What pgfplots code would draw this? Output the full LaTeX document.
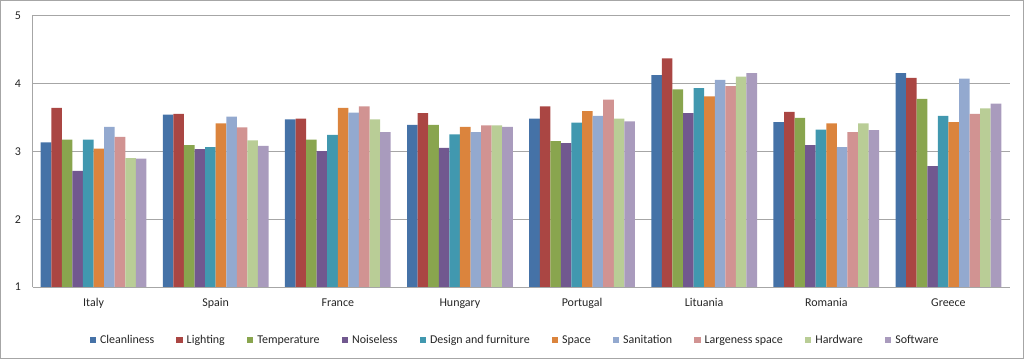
\documentclass[border=0pt]{standalone}
\usepackage{fontspec}
\setmainfont{Carlito}
\usepackage{pgfplots}
\usepackage{pgfplotstable}
\pgfplotsset{compat=1.18}
\definecolor{c1}{HTML}{4572A7}
\definecolor{c2}{HTML}{AA4643}
\definecolor{c3}{HTML}{89A54E}
\definecolor{c4}{HTML}{71588F}
\definecolor{c5}{HTML}{4198AF}
\definecolor{c6}{HTML}{DB843D}
\definecolor{c7}{HTML}{93A9CF}
\definecolor{c8}{HTML}{D19392}
\definecolor{c9}{HTML}{B9CD96}
\definecolor{c10}{HTML}{A99BBD}
\definecolor{gridc}{HTML}{A6A6A6}
\pgfplotstableread{
x Cle Lig Tem Noi Des Spa San Lar Har Sof
0 3.13 3.64 3.17 2.71 3.17 3.04 3.36 3.21 2.90 2.89
1 3.54 3.55 3.09 3.03 3.06 3.41 3.51 3.35 3.16 3.08
2 3.47 3.48 3.17 3.00 3.24 3.64 3.57 3.66 3.47 3.28
3 3.39 3.56 3.39 3.05 3.25 3.36 3.28 3.38 3.38 3.36
4 3.48 3.66 3.15 3.12 3.42 3.59 3.52 3.76 3.48 3.44
5 4.12 4.37 3.91 3.56 3.93 3.81 4.05 3.96 4.10 4.15
6 3.43 3.58 3.49 3.09 3.32 3.41 3.06 3.28 3.41 3.31
7 4.15 4.08 3.77 2.78 3.52 3.43 4.07 3.55 3.63 3.70
}\data
\begin{document}
\begin{tikzpicture}
\useasboundingbox (0,0) rectangle (1024bp,359bp);
\draw[gridc, line width=1.2bp] (0.6bp,0.6bp) rectangle (1023.4bp,358.4bp);
\begin{axis}[
  at={(32.5bp,72bp)}, anchor=south west,
  scale only axis, width=977bp, height=271.5bp,
  ybar=0pt, bar width=0.0866,
  xmin=-0.5, xmax=7.5, ymin=1, ymax=5,
  xtick=data,
  xticklabels={Italy,Spain,France,Hungary,Portugal,Lituania,Romania,Greece},
  ytick={1,2,3,4,5},
  /pgf/number format/assume math mode=true,
  major tick length=0pt,
  axis x line=bottom, axis y line=left,
  axis line style={gridc, -},
  ymajorgrids, grid style={gridc, line width=0.8bp},
  tick label style={font=\fontsize{12}{14}\selectfont, text=black!85},
  xticklabel style={yshift=-8bp},
  yticklabel style={xshift=-8bp},
  legend columns=10,
  legend style={draw=none, at={(0.494,-0.195)}, anchor=center,
    font=\fontsize{12}{14}\selectfont, text=black!85,
    /tikz/every odd column/.append style={column sep=2bp},
    /tikz/every even column/.append style={column sep=20bp}},
  legend image code/.code={\fill[#1] (0bp,-3.2bp) rectangle (6.5bp,3.3bp);},
  every axis plot/.append style={draw=none},
]
\addplot[fill=c1] table[x=x,y=Cle]{\data};
\addplot[fill=c2] table[x=x,y=Lig]{\data};
\addplot[fill=c3] table[x=x,y=Tem]{\data};
\addplot[fill=c4] table[x=x,y=Noi]{\data};
\addplot[fill=c5] table[x=x,y=Des]{\data};
\addplot[fill=c6] table[x=x,y=Spa]{\data};
\addplot[fill=c7] table[x=x,y=San]{\data};
\addplot[fill=c8] table[x=x,y=Lar]{\data};
\addplot[fill=c9] table[x=x,y=Har]{\data};
\addplot[fill=c10] table[x=x,y=Sof]{\data};
\legend{Cleanliness,Lighting,Temperature,Noiseless,Design and furniture,Space,Sanitation,Largeness space,Hardware,Software}
\end{axis}
\end{tikzpicture}
\end{document}
